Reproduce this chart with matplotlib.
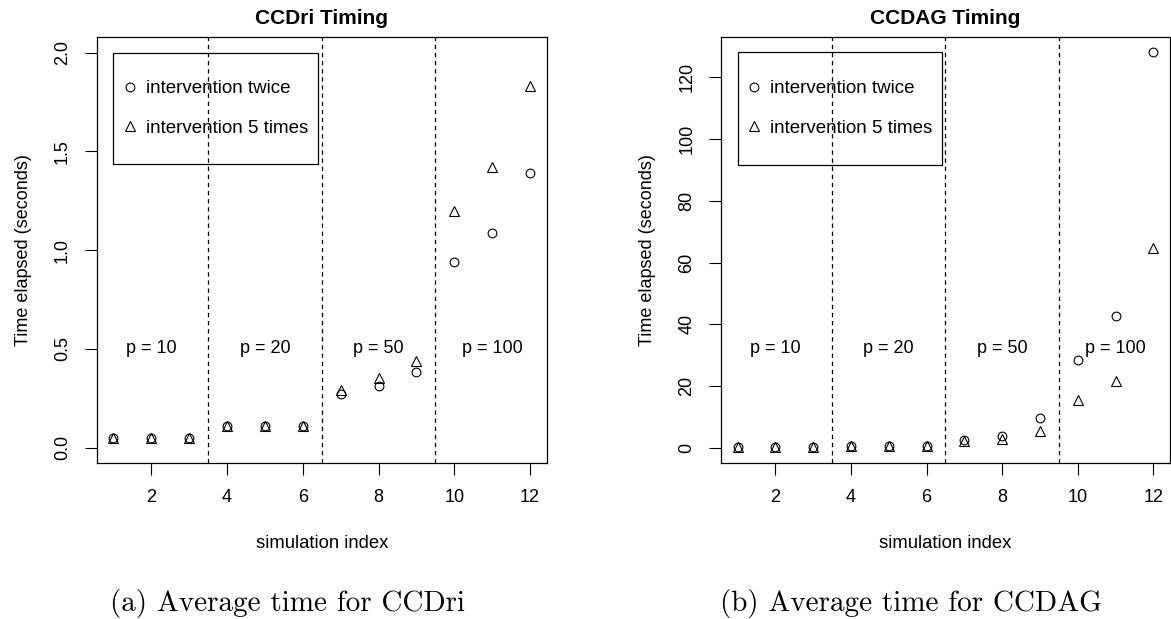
import numpy as np
import matplotlib
matplotlib.use("Agg")
import matplotlib.pyplot as plt
from matplotlib.patches import Rectangle

plt.rcParams["font.family"] = "Liberation Sans"

# data
sim_index = [1, 2, 3, 4, 5, 6, 7, 8, 9, 10, 11, 12]
ccdri_twice = [0.05, 0.05, 0.05, 0.11, 0.11, 0.11, 0.27, 0.31, 0.38, 0.94, 1.085, 1.39]
ccdri_five = [0.05, 0.05, 0.05, 0.11, 0.11, 0.11, 0.29, 0.35, 0.44, 1.20, 1.42, 1.83]
ccdag_twice = [0.3, 0.3, 0.3, 0.5, 0.5, 0.5, 2.5, 3.8, 9.6, 28.3, 42.8, 128.1]
ccdag_five = [0.3, 0.3, 0.3, 0.5, 0.5, 0.5, 2.2, 2.9, 5.5, 15.4, 21.7, 64.6]

group_breaks = [3.5, 6.5, 9.5]
group_centers = [2, 5, 8, 11]
group_labels = ["p = 10", "p = 20", "p = 50", "p = 100"]

ccdri_yticks = [0.0, 0.5, 1.0, 1.5, 2.0]
ccdri_yticklabels = ["0.0", "0.5", "1.0", "1.5", "2.0"]
ccdag_yticks = [0, 20, 40, 60, 80, 100, 120]
xticks = [2, 4, 6, 8, 10, 12]

FS = 13

fig = plt.figure(figsize=(11.71, 6.19), dpi=100)
ax1 = fig.add_axes([0.0826, 0.2515, 0.3843, 0.6892])
ax2 = fig.add_axes([0.6157, 0.2515, 0.3834, 0.6892])


def draw_panel(ax, twice, five, yticks, yticklabels, ylim, label_y, title, leg_top, leg_bottom):
    ax.plot(sim_index, twice, linestyle="none", marker="o", markersize=6.3,
            markerfacecolor="none", markeredgecolor="black", markeredgewidth=0.8,
            label="intervention twice")
    ax.plot(sim_index, five, linestyle="none", marker="^", markersize=7.3,
            markerfacecolor="none", markeredgecolor="black", markeredgewidth=0.8,
            label="intervention 5 times")
    for b in group_breaks:
        ax.axvline(b, color="black", lw=0.9, dashes=(3.5, 3.0))
    for cx, lab in zip(group_centers, group_labels):
        ax.text(cx, label_y, lab, ha="center", va="center", fontsize=FS)

    ax.set_xlim(0.56, 12.44)
    ax.set_ylim(*ylim)
    ax.set_xticks(xticks)
    ax.set_yticks(yticks)
    ax.set_yticklabels(yticklabels)
    ax.tick_params(axis="both", direction="out", length=8.6, width=0.8,
                   labelsize=FS)
    ax.tick_params(axis="x", pad=10)
    ax.tick_params(axis="y", pad=10, labelrotation=90)
    for lbl in ax.get_yticklabels():
        lbl.set_va("center")
    for sp in ax.spines.values():
        sp.set_linewidth(0.9)

    ax.set_title(title, fontsize=15, fontweight="bold", pad=9.5)
    ax.set_xlabel("simulation index", fontsize=13.3, labelpad=21)
    ax.set_ylabel("Time elapsed (seconds)", fontsize=FS, labelpad=16)

    # legend box anchored at (1, top) like R's legend(1, top, ...)
    ax.add_patch(Rectangle((1.0, leg_bottom), 5.4, leg_top - leg_bottom,
                           fill=False, edgecolor="black", lw=0.9, zorder=3))
    ax.legend(loc="center left", frameon=False, fontsize=13.5,
              bbox_to_anchor=(1.0, (leg_top + leg_bottom) / 2),
              bbox_transform=ax.transData, borderpad=0.0,
              handlelength=0.9, handletextpad=0.4, labelspacing=1.2,
              borderaxespad=0.45)


draw_panel(ax1, ccdri_twice, ccdri_five, ccdri_yticks, ccdri_yticklabels,
           (-0.08, 2.08), 0.5, "CCDri Timing", 2.0, 1.433)
draw_panel(ax2, ccdag_twice, ccdag_five, ccdag_yticks,
           [str(v) for v in ccdag_yticks], (-5.1, 133.2), 32,
           "CCDAG Timing", max(ccdag_twice), 91.7)

fig.text(288 / 1171, 1 - 603 / 619, "(a) Average time for CCDri",
         family="cmr10", fontsize=21, ha="center", va="center")
fig.text(911 / 1171, 1 - 603 / 619, "(b) Average time for CCDAG",
         family="cmr10", fontsize=21, ha="center", va="center")

fig.savefig("out.png", dpi=100)
